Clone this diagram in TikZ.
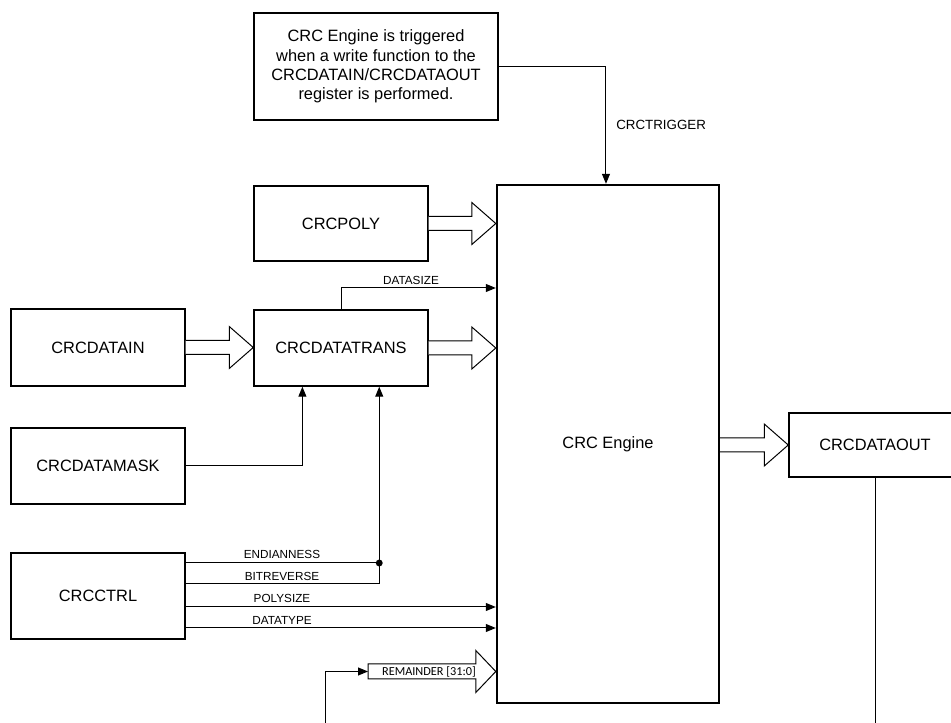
\documentclass[tikz,border=0pt]{standalone}
\usepackage{fontspec}
\setmainfont{Liberation Sans}
\newfontfamily\calib{Carlito}
\usetikzlibrary{arrows.meta,calc}
\newcommand\fatarrow[2]{%
  \path (#1) coordinate (fatA) (#2 |- #1) coordinate (fatB);
  \draw[fat] ($(fatA)+(0,-7)$) -- ($(fatB)+(-24,-7)$) -- ($(fatB)+(-24,-21)$) -- (fatB)
    -- ($(fatB)+(-24,21)$) -- ($(fatB)+(-24,7)$) -- ($(fatA)+(0,7)$);}
\begin{document}
\begin{tikzpicture}[x=0.75pt,y=-0.75pt,
  box/.style={draw,line width=1.1pt,rectangle,inner sep=0pt,align=center,
    font=\fontsize{12.3}{14.4}\selectfont},
  sig/.style={line width=0.75pt},
  tip/.style={-{Triangle[length=7.5pt,width=6pt]}},
  fat/.style={line width=0.75pt,line join=miter,fill=white},
  lbl/.style={font=\fontsize{8.8}{10}\selectfont,inner sep=0pt}]
\clip (0,0) rectangle (951,723);
% boxes
\node[box,minimum width=183pt,minimum height=80.25pt] (trig) at (376,66.5)
  {CRC Engine is triggered\\when a write function to the\\CRCDATAIN/CRCDATAOUT\\register is performed.};
\node[box,minimum width=130.5pt,minimum height=56.25pt] (poly) at (341,223.5) {CRCPOLY};
\node[box,minimum width=130.5pt,minimum height=57pt] (trans) at (341,348) {CRCDATATRANS};
\node[box,minimum width=130.5pt,minimum height=57.75pt] (din) at (98,347.5) {CRCDATAIN};
\node[box,minimum width=130.5pt,minimum height=57pt] (mask) at (98,466) {CRCDATAMASK};
\node[box,minimum width=130.5pt,minimum height=64.5pt] (ctrl) at (98,596) {CRCCTRL};
\node[box,line width=1.8pt,minimum width=166.5pt,minimum height=388.5pt] (eng) at (608,444) {CRC Engine};
\node[box,minimum width=129pt,minimum height=48pt] (dout) at (875,445) {CRCDATAOUT};
% fat arrows
\fatarrow{poly.east}{eng.west}
\fatarrow{din.east}{trans.west}
\fatarrow{trans.east}{eng.west}
\coordinate (eo) at (eng.east |- dout.west);
\fatarrow{eo}{dout.west}
% trigger
\draw[sig,tip] (trig.east) -| ($(eng.north west)!0.491!(eng.north east)$);
\node[anchor=west,font=\fontsize{10}{12}\selectfont,inner sep=0pt] (trl) at (616,125) {CRCTRIGGER};
% datasize
\coordinate (dsy) at (0,288);
\draw[sig,tip] (trans.north) |- (eng.west |- dsy);
\node[lbl] (dszl) at (411,280) {DATASIZE};
% mask
\draw[sig,tip] (mask.east) -| ($(trans.south west)!0.28!(trans.south east)$);
% ctrl signals
\coordinate (en) at ($(ctrl.east)+(0,-33)$);
\coordinate (bi) at ($(ctrl.east)+(0,-12)$);
\coordinate (ps) at ($(ctrl.east)+(0,11)$);
\coordinate (dt) at ($(ctrl.east)+(0,32)$);
\coordinate (jn) at ($(trans.south west)!0.718!(trans.south east)$);
\draw[sig] (en) -- (jn |- en);
\draw[sig,tip] (bi) -| (jn);
\fill (jn |- en) circle[radius=2.6pt];
\draw[sig,tip] (ps) -- (eng.west |- ps);
\draw[sig,tip] (dt) -- (eng.west |- dt);
\node[lbl] (enl) at (282,554) {ENDIANNESS};
\node[lbl] (bil) at (282,576) {BITREVERSE};
\node[lbl] (psl) at (282,598) {POLYSIZE};
\node[lbl] (dtl) at (282,620) {DATATYPE};
% remainder
\coordinate (remS) at (368,671.5);
\coordinate (remT) at (eng.west |- remS);
\draw[fat] ($(remS)+(0,-7.5)$) -- ($(remT)+(-20,-7.5)$) -- ($(remT)+(-20,-21)$) -- (remT)
  -- ($(remT)+(-20,21)$) -- ($(remT)+(-20,7.5)$) -- ($(remS)+(0,7.5)$) -- cycle;
\node[font=\calib\fontsize{9.2}{11}\selectfont,inner sep=0pt] (reml) at (429,671.5) {REMAINDER [31:0]};
\coordinate (rfb) at (325,730);
\draw[sig,tip] (rfb) |- (remS);
% dataout line
\coordinate (doe) at (dout.south |- rfb);
\draw[sig] (dout.south) -- (doe);
\end{tikzpicture}
\end{document}
